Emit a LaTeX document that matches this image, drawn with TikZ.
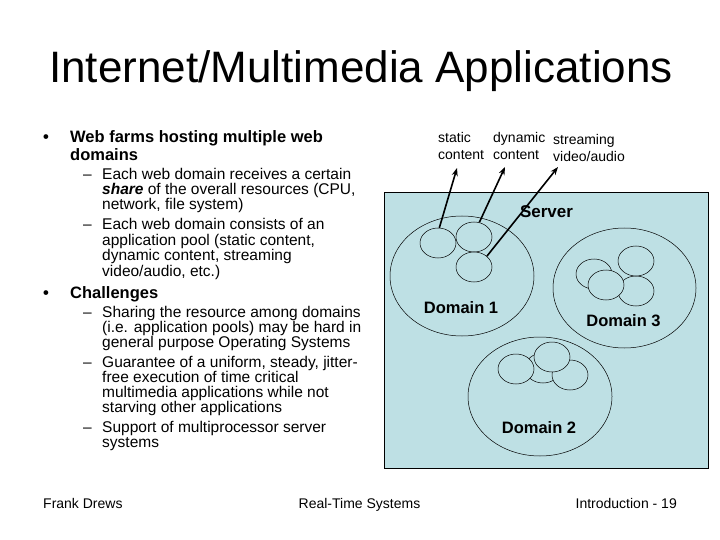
\documentclass[tikz,border=0pt]{standalone}
\usepackage{fontspec}
\setmainfont{Liberation Sans}
\usetikzlibrary{positioning, arrows.meta, shapes.geometric}
\definecolor{serverblue}{RGB}{190,224,228}

\begin{document}
\begin{tikzpicture}[%
    x=1pt, y=-1pt,
    >=Stealth,
    % Text (multi-line nodes sit on the baseline of their last line)
    slidetitle/.style={font=\fontsize{44}{48}\selectfont, anchor=base, inner sep=0},
    lvlone/.style={font=\fontsize{16.5}{18}\selectfont\bfseries, align=left, anchor=base west, inner sep=0},
    lvltwo/.style={font=\fontsize{15.5}{15}\selectfont, align=left, anchor=base west, inner sep=0},
    footer/.style={font=\fontsize{14}{16}\selectfont, inner sep=0},
    ctype/.style={font=\fontsize{14}{17}\selectfont, align=left, anchor=base west, inner sep=0},
    domlabel/.style={font=\fontsize{16.5}{18}\selectfont\bfseries, inner sep=0},
    % Shapes
    serverbox/.style={draw, fill=serverblue, line width=0.8pt, inner sep=0},
    domring/.style={draw, ellipse, minimum width=144, minimum height=120, inner sep=0, line width=0.5pt},
    app/.style={draw, ellipse, fill=serverblue, minimum width=36, minimum height=30, inner sep=0, line width=0.5pt},
    flow/.style={-{Stealth[length=8pt, width=6pt]}, line width=1.6pt}
]

\fill[white] (0,0) rectangle (720,540);
\useasboundingbox (0,0) rectangle (720,540);

% --- 1. Title ---
\node[slidetitle] (title) at (361,83) {Internet/Multimedia Applications};

% --- 2. Bullet text (Left) ---
\node[lvlone] (dot1) at (43,143) {•};
\node[lvlone] (farms) at (70,161) {Web farms hosting multiple web\\domains};
\node[lvltwo] (dash1) at (83,179.5) {–};
\node[lvltwo] (share) at (102,209.5) {Each web domain receives a certain\\\textbf{\textit{share}} of the overall resources (CPU,\\network, file system)};
\node[lvltwo] (dash2) at (83,229.5) {–};
\node[lvltwo, font=\fontsize{15.5}{15.5}\selectfont] (pool) at (102,276) {Each web domain consists of an\\application pool (static content,\\dynamic content, streaming\\video/audio, etc.)};

\node[lvlone] (dot2) at (43,298) {•};
\node[lvlone] (challenges) at (70,298) {Challenges};
\node[lvltwo] (dash3) at (83,317.5) {–};
\node[lvltwo] (sharing) at (102,347.5) {Sharing the resource among domains\\(i.e. application pools) may be hard in\\general purpose Operating Systems};
\node[lvltwo] (dash4) at (83,367.5) {–};
\node[lvltwo] (guarantee) at (102,412.5) {Guarantee of a uniform, steady, jitter-\\free execution of time critical\\multimedia applications while not\\starving other applications};
\node[lvltwo] (dash5) at (83,432.5) {–};
\node[lvltwo] (support) at (102,447.5) {Support of multiprocessor server\\systems};

% --- 3. Server with domains (Right) ---
\node[serverbox, minimum width=324, minimum height=276, anchor=north west] (server) at (384,192) {};
\node[domlabel, font=\fontsize{17}{18}\selectfont\bfseries] (serverlbl) at (546.5,212) {Server};

\node[domring] (dom1) at (462,276) {};
\node[domring, minimum width=143] (dom3) at (624.5,288) {};
\node[domring, minimum height=119] (dom2) at (540,396.5) {};

% Application pools
\node[app] (s1) at (438,243) {};
\node[app] (s2) at (474,237) {};
\node[app] (s3) at (474,267) {};

\node[app] (t1) at (594,274) {};
\node[app] (t4) at (636,291) {};
\node[app] (t2) at (636,261) {};
\node[app] (t3) at (606,285) {};

\node[app] (u4) at (543,368) {};
\node[app] (u3) at (570,375) {};
\node[app] (u1) at (516,369) {};
\node[app] (u2) at (552,357) {};

\node[domlabel] (dom1lbl) at (461,308) {Domain 1};
\node[domlabel] (dom3lbl) at (623.5,320.5) {Domain 3};
\node[domlabel] (dom2lbl) at (539,428) {Domain 2};

% --- 4. Content types ---
\node[ctype] (static) at (438,160) {static\\content};
\node[ctype] (dynamic) at (493,160) {dynamic\\content};
\node[ctype] (stream) at (553,162) {streaming\\video/audio};

\coordinate (tipstatic) at (457,168);
\coordinate (tipdynamic) at (505,167);
\coordinate (tipstream) at (558,167);

\draw[flow] (s1.85) -- (tipstatic);
\draw[flow] (s2.70) -- (tipdynamic);
\draw[flow] (s3.40) -- (tipstream);

% --- 5. Footer ---
\node[footer, anchor=base west] (author) at (43,508) {Frank Drews};
\node[footer, anchor=base] (course) at (359.5,508) {Real-Time Systems};
\node[footer, anchor=base east] (page) at (677,508) {Introduction - 19};

\end{tikzpicture}
\end{document}
